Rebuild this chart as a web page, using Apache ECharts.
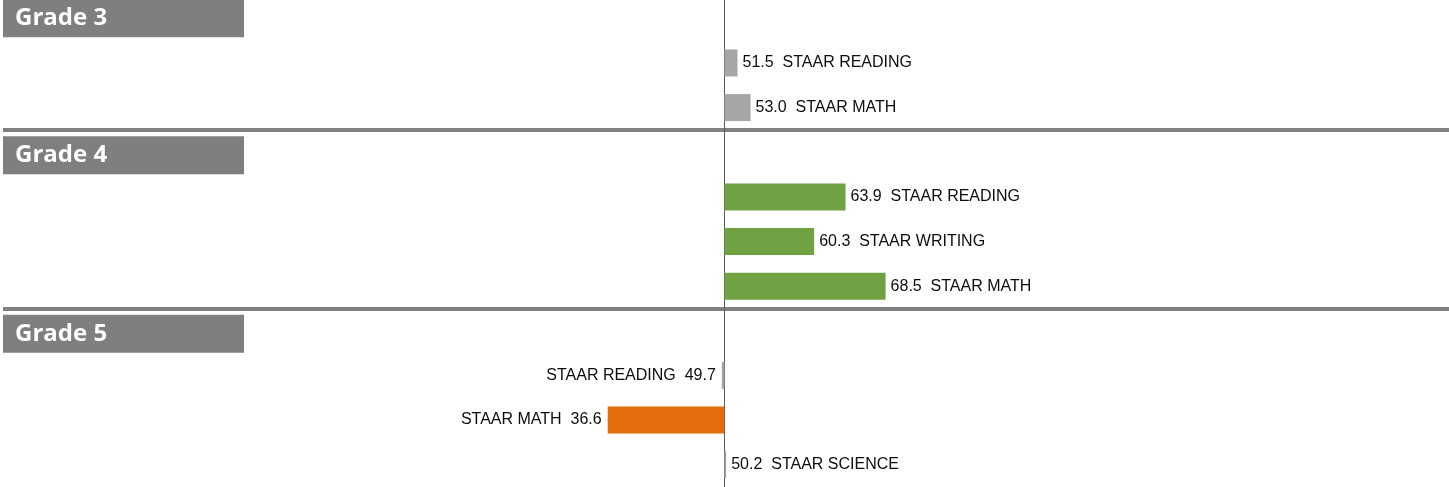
<!DOCTYPE html>
<html>
<head>
<meta charset="utf-8">
<script src="https://cdn.jsdelivr.net/npm/echarts@6/dist/echarts.min.js"></script>
<style>html,body{margin:0;padding:0;background:#fff;overflow:hidden;}#c{position:absolute;left:0;top:-4px;width:1449px;height:540px;}</style>
</head>
<body>
<div id="c"></div>
<script>
// ---- data ----
const grades = ['Grade 3', 'Grade 4', 'Grade 5'];
const subjects = [
  ['STAAR READING', 'STAAR MATH'],
  ['STAAR READING', 'STAAR WRITING', 'STAAR MATH'],
  ['STAAR READING', 'STAAR MATH', 'STAAR SCIENCE']
];
const scores = [
  [51.5, 53.0],
  [63.9, 60.3, 68.5],
  [49.7, 36.6, 50.2]
];
// status: 'above' (green), 'below' (orange), 'none' (gray)
const status = [
  ['none', 'none'],
  ['above', 'above', 'above'],
  ['none', 'below', 'none']
];
const baseline = 50;

// ---- build ----
const statusColor = { above: '#70A244', below: '#E46C0A', none: '#A6A6A6' };
const categories = [];
const headerIdx = [];
const barData = [];
grades.forEach((g, gi) => {
  headerIdx.push(categories.length);
  categories.push(g);
  barData.push('-');
  subjects[gi].forEach((s, si) => {
    categories.push(g + '|' + s);
    const v = scores[gi][si];
    const neg = v < baseline;
    barData.push({
      value: +(v - baseline).toFixed(2),
      raw: v,
      subject: s,
      itemStyle: { color: statusColor[status[gi][si]] },
      label: {
        position: neg ? 'left' : 'right',
        distance: neg ? 6 : 5
      }
    });
  });
});
// trailing spacer slot (keeps the last band boundary below the visible area)
categories.push('');
barData.push('-');

const slot = 44.64;
const chart = echarts.init(document.getElementById('c'));
chart.setOption({
  animation: false,
  grid: { left: 0, right: 0, top: 0, height: slot * categories.length, containLabel: false },
  xAxis: {
    type: 'value', min: -82.82, max: 83.18, show: false
  },
  yAxis: [
    {
      type: 'category', data: categories, inverse: true,
      axisLine: { show: true, onZero: true, lineStyle: { color: '#595959', width: 1 } },
      axisTick: { show: false },
      axisLabel: { show: false },
      splitLine: {
        show: true,
        interval: function (index) { return headerIdx.indexOf(index) > 0; },
        lineStyle: { color: '#808080', width: 4 }
      }
    },
    {
      type: 'category', data: categories, inverse: true, position: 'left',
      axisLine: { show: false, onZero: false },
      axisTick: { show: false },
      splitLine: { show: false },
      axisLabel: {
        inside: true, margin: 0, interval: 0,
        formatter: function (v) {
          const gi = grades.indexOf(v);
          if (gi < 0) return '';
          return gi === 0 ? '{box|' + v + '}' : '{sp|}\n{box|' + v + '}';
        },
        rich: {
          sp: { height: 6, lineHeight: 6, width: 10 },
          box: {
            backgroundColor: '#7F7F7F', color: '#ffffff',
            fontFamily: 'Open Sans', fontWeight: 'bold', fontSize: 24,
            width: 229, height: 38, lineHeight: 38, padding: [0, 0, 0, 12], align: 'left'
          }
        }
      }
    }
  ],
  series: [{
    type: 'bar', yAxisIndex: 0, barWidth: 27,
    data: barData,
    label: {
      show: true,
      fontFamily: 'Liberation Sans, Arial', fontSize: 16, color: '#0d0d0d',
      formatter: function (p) {
        const d = p.data;
        const val = d.raw.toFixed(1);
        return d.raw < baseline ? d.subject + '  ' + val : val + '  ' + d.subject;
      }
    }
  }]
});
</script>
</body>
</html>
